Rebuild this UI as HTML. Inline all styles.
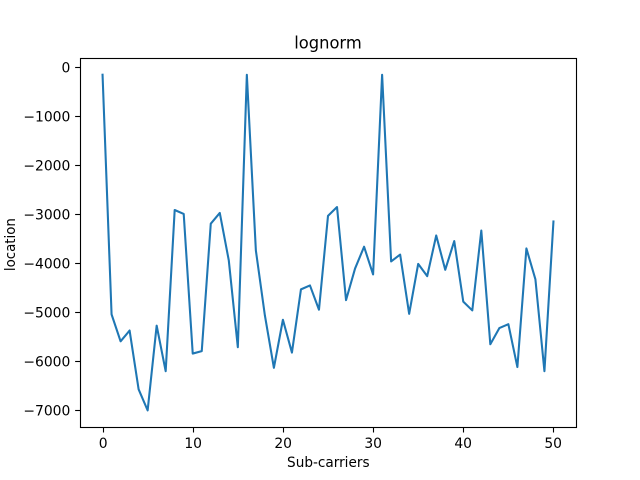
<!DOCTYPE html>
<html>
<head>
<meta charset="utf-8">
<style>
html,body{margin:0;padding:0;background:#fff;}
svg{display:block;}
text{font-family:"DejaVu Sans",sans-serif;fill:#000;}
</style>
</head>
<body>
<svg id="chart" xmlns="http://www.w3.org/2000/svg" width="640" height="480" viewBox="0 0 640 480">
<rect x="80" y="58" width="496" height="369.5" fill="#fff"/>
<g id="ticks"></g>
<polyline id="line" fill="none" stroke="#1f77b4" stroke-width="2.08" stroke-linejoin="round" stroke-linecap="square"/>
<rect x="80.5" y="58.5" width="496" height="369" fill="none" stroke="#000" stroke-width="1.11"/>
<text x="328" y="48.5" font-size="16.67" text-anchor="middle" textLength="67.5" lengthAdjust="spacingAndGlyphs">lognorm</text>
<text x="328.3" y="467" font-size="13.89" text-anchor="middle" textLength="82.5" lengthAdjust="spacingAndGlyphs">Sub-carriers</text>
<text transform="translate(15,244.6) rotate(-90)" font-size="13.89" text-anchor="middle" textLength="53" lengthAdjust="spacingAndGlyphs">location</text>
</svg>
<script>
const xTicks = [0, 10, 20, 30, 40, 50];
const yTicks = [0, -1000, -2000, -3000, -4000, -5000, -6000, -7000];
const values = [-150, -5040, -5590, -5370, -6570, -7000, -5270, -6200, -2910, -2990,
  -5840, -5790, -3190, -2970, -3940, -5710, -150, -3735, -5060, -6130,
  -5150, -5820, -4530, -4450, -4945, -3030, -2850, -4750, -4105, -3660,
  -4225, -150, -3960, -3820, -5030, -4010, -4260, -3430, -4130, -3545,
  -4780, -4960, -3330, -5650, -5320, -5240, -6115, -3695, -4325, -6200, -3145];

function xScale(i) {
  return 102.55 + i * (553.45 - 102.55) / 50;
}
function yScale(v) {
  return 67.4 - v * 0.049;
}
function snap(p) {
  return Math.floor(p + 0.5) + 0.5;
}

const ns = 'http://www.w3.org/2000/svg';
const ticks = document.getElementById('ticks');

function add(parent, tag, attrs) {
  const el = document.createElementNS(ns, tag);
  for (const k in attrs) el.setAttribute(k, attrs[k]);
  parent.appendChild(el);
  return el;
}

xTicks.forEach(function (t) {
  const x = snap(xScale(t));
  const mark = add(ticks, 'line', {x1: x, x2: x, y1: 427.5, y2: 432.5, stroke: '#000', 'stroke-width': 1.11});
  
  
  const label = add(ticks, 'text', {x: x - 0.3, y: 448, 'font-size': 13.89, 'text-anchor': 'middle'});
  
  
  label.textContent = String(t);
});

yTicks.forEach(function (t) {
  const y = snap(yScale(t));
  const mark = add(ticks, 'line', {x1: 75.14, x2: 80, y1: y, y2: y, stroke: '#000', 'stroke-width': 1.11});
  
  
  const label = add(ticks, 'text', {x: 70.3, y: y + 5, 'font-size': 13.89, 'text-anchor': 'end'});
  
  
  label.textContent = String(t).replace('-', '\u2212');
});

document.getElementById('line').setAttribute('points', values.map(function (v, i) {
  return xScale(i).toFixed(2) + ',' + yScale(v).toFixed(2);
}).join(' '));
</script>
</body>
</html>
